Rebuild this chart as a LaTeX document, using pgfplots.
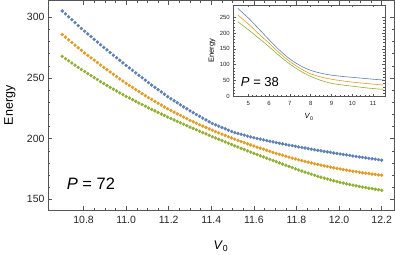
\documentclass[border=0pt]{standalone}
\usepackage{pgfplots}
\pgfplotsset{compat=1.18}
\usepackage{pgfplotstable}
\usepackage{fontspec}
\setmainfont{Liberation Sans}
\definecolor{mblue}{HTML}{5E81B5}
\definecolor{morange}{HTML}{E19C24}
\definecolor{mgreen}{HTML}{8FB032}
\definecolor{frame}{HTML}{555555}

\pgfplotstableread{
x b o g
10.700 305.2 285.8 267.8
10.715 302.8 283.6 266.0
10.730 300.4 281.5 264.2
10.745 298.0 279.3 262.4
10.760 295.6 277.1 260.6
10.775 293.2 274.9 258.8
10.790 290.8 272.8 257.0
10.805 288.5 270.6 255.3
10.820 286.3 268.6 253.6
10.835 284.1 266.6 252.0
10.850 281.9 264.7 250.3
10.865 279.6 262.7 248.7
10.880 277.4 260.7 247.0
10.895 275.2 258.7 245.4
10.910 273.1 256.8 243.8
10.925 271.0 254.9 242.3
10.940 268.8 253.0 240.8
10.955 266.7 251.2 239.3
10.970 264.6 249.3 237.8
10.985 262.4 247.5 236.3
11.000 260.3 245.6 234.8
11.015 258.3 243.9 233.5
11.030 256.3 242.2 232.1
11.045 254.2 240.5 230.8
11.060 252.2 238.8 229.4
11.075 250.2 237.1 228.1
11.090 248.2 235.4 226.7
11.105 246.2 233.8 225.4
11.120 244.2 232.3 224.1
11.135 242.3 230.7 222.9
11.150 240.4 229.2 221.6
11.165 238.5 227.7 220.3
11.180 236.6 226.1 219.1
11.195 234.6 224.6 217.8
11.210 232.9 223.2 216.6
11.225 231.2 221.9 215.4
11.240 229.6 220.5 214.2
11.255 227.9 219.2 213.1
11.270 226.2 217.8 211.9
11.285 224.6 216.5 210.7
11.300 222.9 215.1 209.5
11.315 221.4 213.9 208.4
11.330 219.9 212.7 207.3
11.345 218.4 211.5 206.1
11.360 216.9 210.4 205.0
11.375 215.4 209.2 203.9
11.390 213.9 208.0 202.8
11.405 212.5 206.9 201.6
11.420 211.4 205.8 200.6
11.435 210.3 204.8 199.5
11.450 209.2 203.7 198.4
11.465 208.1 202.7 197.3
11.480 207.0 201.6 196.2
11.495 205.9 200.6 195.2
11.510 205.0 199.6 194.1
11.525 204.3 198.6 193.1
11.540 203.6 197.7 192.0
11.555 202.9 196.7 191.0
11.570 202.1 195.8 190.0
11.585 201.4 194.8 188.9
11.600 200.7 193.9 187.9
11.615 200.1 193.0 186.9
11.630 199.6 192.2 185.9
11.645 199.0 191.3 184.9
11.660 198.4 190.4 183.9
11.675 197.9 189.6 183.0
11.690 197.3 188.7 182.0
11.705 196.7 187.8 181.0
11.720 196.2 187.1 180.0
11.735 195.7 186.3 179.0
11.750 195.2 185.5 178.1
11.765 194.7 184.8 177.1
11.780 194.2 184.0 176.1
11.795 193.7 183.3 175.1
11.810 193.2 182.6 174.2
11.825 192.7 181.9 173.3
11.840 192.3 181.3 172.4
11.855 191.8 180.6 171.6
11.870 191.3 180.0 170.7
11.885 190.9 179.3 169.8
11.900 190.4 178.7 168.9
11.915 190.0 178.2 168.2
11.930 189.5 177.6 167.5
11.945 189.1 177.1 166.7
11.960 188.7 176.5 166.0
11.975 188.2 176.0 165.3
11.990 187.8 175.5 164.6
12.005 187.4 175.0 163.9
12.020 187.0 174.5 163.4
12.035 186.6 174.1 162.8
12.050 186.2 173.6 162.2
12.065 185.7 173.2 161.7
12.080 185.3 172.7 161.1
12.095 184.9 172.3 160.6
12.110 184.6 171.9 160.1
12.125 184.2 171.5 159.7
12.140 183.8 171.2 159.2
12.155 183.4 170.8 158.8
12.170 183.1 170.5 158.3
12.185 182.7 170.1 157.9
12.200 182.3 169.8 157.4
}\maindata

\pgfplotstableread{
x b o g
4.5 278 257 236
5.0 248 229 211
5.5 214 198 184
6.0 179 168 157
6.5 146 137 128
7.0 118 110 102
7.5 97 88 80
8.0 82 71 63
8.5 73 61 50
9.0 67 54 41
9.5 63 49 36
10.0 60 45 32
10.5 57 41.5 28
11.0 54 38.5 24.5
11.5 51.5 35.5 22
}\insetdata

\begin{document}
\begin{tikzpicture}[x=1pt,y=1pt]
\useasboundingbox (0,0) rectangle (395,254);
\begin{axis}[
  at={(48pt,44pt)}, anchor=south west,
  scale only axis, width=346pt, height=209.3pt,
  xmin=10.633, xmax=12.258, ymin=141.2, ymax=313.7,
  xtick={10.8,11,11.2,11.4,11.6,11.8,12,12.2},
  ytick={150,200,250,300},
  minor x tick num=3, minor y tick num=4,
  tick align=inside,
  major tick length=4pt, minor tick length=2.3pt,
  axis line style={frame, line width=0.5pt},
  every tick/.style={frame, line width=0.5pt},
  /pgf/number format/assume math mode=true,
  tick label style={font=\fontsize{10.5}{12}\selectfont, text=black!85},
  xticklabel style={yshift=-3pt, /pgf/number format/.cd, fixed, fixed zerofill, precision=1},
  xlabel={\textit{V}\textsubscript{0}},
  ylabel={Energy},
  label style={font=\fontsize{12.5}{14}\selectfont},
  xlabel style={at={(axis description cs:0.5,-0.172)}, anchor=center},
  ylabel style={at={(axis description cs:-0.110,0.5)}, anchor=center},
]
\addplot[only marks, mark=*, mark size=1.5pt, color=mblue, mark options={draw=none, fill=mblue}] table[x=x,y=b]{\maindata};
\addplot[only marks, mark=*, mark size=1.5pt, color=morange, mark options={draw=none, fill=morange}] table[x=x,y=o]{\maindata};
\addplot[only marks, mark=*, mark size=1.5pt, color=mgreen, mark options={draw=none, fill=mgreen}] table[x=x,y=g]{\maindata};
\node[font=\fontsize{16.5}{18}\selectfont, anchor=center] at (rel axis cs:0.124,0.124) {\textit{P} = 72};
\end{axis}

\begin{axis}[
  at={(233.3pt,157.3pt)}, anchor=south west,
  scale only axis, width=151.4pt, height=91.7pt,
  xmin=4.28, xmax=11.56, ymin=-1.3, ymax=289,
  axis background/.style={fill=white},
  xtick={5,6,7,8,9,10,11},
  ytick={0,50,100,150,200,250},
  minor x tick num=4, minor y tick num=4,
  tick align=inside,
  major tick length=2.5pt, minor tick length=1.4pt,
  axis line style={frame, line width=0.4pt},
  every tick/.style={frame, line width=0.4pt},
  /pgf/number format/assume math mode=true,
  tick label style={font=\fontsize{6}{7}\selectfont, text=black!85},
  xticklabel style={yshift=-1pt},
  xlabel={\textit{V}\textsubscript{0}},
  ylabel={Energy},
  label style={font=\fontsize{7.5}{9}\selectfont},
  xlabel style={at={(axis description cs:0.5,-0.22)}, anchor=center},
  ylabel style={at={(axis description cs:-0.141,0.5)}, anchor=center},
]
\addplot[smooth, no marks, color=mblue, line width=0.6pt] table[x=x,y=b]{\insetdata};
\addplot[smooth, no marks, color=morange, line width=0.6pt] table[x=x,y=o]{\insetdata};
\addplot[smooth, no marks, color=mgreen, line width=0.6pt] table[x=x,y=g]{\insetdata};
\node[font=\fontsize{13}{15}\selectfont, anchor=center] at (rel axis cs:0.176,0.164) {\textit{P} = 38};
\end{axis}
\end{tikzpicture}
\end{document}
